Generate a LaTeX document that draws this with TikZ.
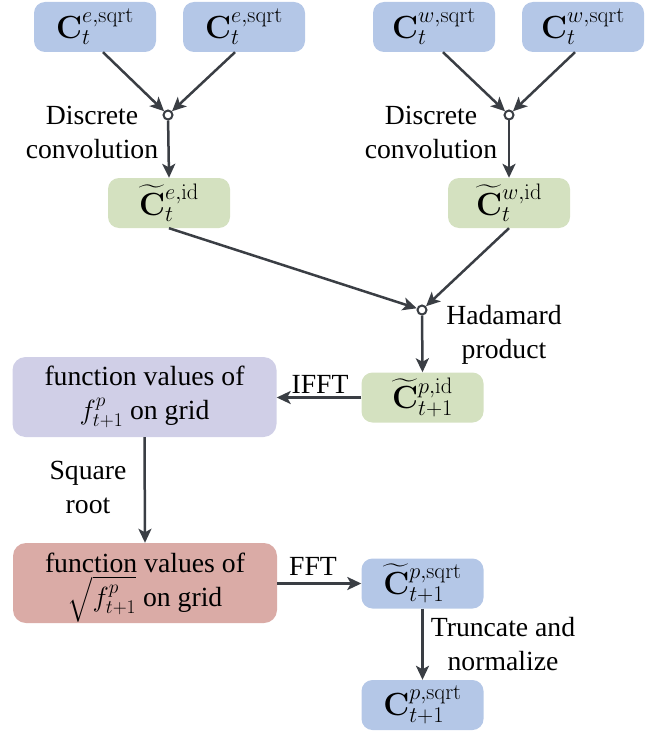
\RequirePackage{fix-cm}
\documentclass[tikz,border=0pt]{standalone}
\usepackage{amsmath}
\usepackage[no-math]{fontspec}
\setmainfont{Liberation Serif}
\newfontfamily\lserif{Liberation Serif}
\usetikzlibrary{arrows.meta,calc}
\definecolor{cblue}{HTML}{B4C7E7}
\definecolor{cgreen}{HTML}{D4E1C0}
\definecolor{cpurple}{HTML}{D0CFE7}
\definecolor{cred}{HTML}{DAABA6}
\definecolor{carrow}{HTML}{3A3E44}
\tikzset{
  smallbox/.style={rounded corners=11pt, minimum width=122pt, minimum height=50pt, inner sep=0pt, draw=none, font=\lserif\fontsize{32}{38}\selectfont},
  bigbox/.style={rounded corners=13pt, minimum width=264pt, minimum height=80pt, inner sep=0pt, align=center, draw=none},
  junction/.style={circle, draw=carrow, fill=white, line width=2pt, minimum size=9pt, inner sep=0pt},
  conn/.style={draw=carrow, line width=2.5pt, -{Stealth[length=14pt,width=13pt,inset=3.5pt]}},
  lbl/.style={align=center, inner sep=0pt}
}
\begin{document}
\begin{tikzpicture}[x=1pt,y=-1pt,font=\lserif\fontsize{27.7}{34}\selectfont]
\useasboundingbox (0,0) rectangle (650,733);
% top boxes
\node[smallbox, fill=cblue] (b1) at (95,27) {$\mathbf{C}_t^{e,\mathrm{sqrt}}$};
\node[smallbox, fill=cblue] (b2) at (244,27) {$\mathbf{C}_t^{e,\mathrm{sqrt}}$};
\node[smallbox, fill=cblue] (b3) at (434,27) {$\mathbf{C}_t^{w,\mathrm{sqrt}}$};
\node[smallbox, fill=cblue] (b4) at (583,27) {$\mathbf{C}_t^{w,\mathrm{sqrt}}$};
% junctions
\node[junction] (j1) at (168,115) {};
\node[junction] (j2) at (509,115) {};
% green boxes
\node[smallbox, fill=cgreen] (g1) at (169,203) {$\widetilde{\mathbf{C}}_t^{e,\mathrm{id}}$};
\node[smallbox, fill=cgreen] (g2) at (509,203) {$\widetilde{\mathbf{C}}_t^{w,\mathrm{id}}$};
\node[junction] (j3) at (422,310) {};
\node[smallbox, fill=cgreen] (g3) at (422.5,397.5) {$\widetilde{\mathbf{C}}_{t+1}^{p,\mathrm{id}}$};
% big boxes
\node[bigbox, fill=cpurple] (pu) at (144.5,397) {function values of\\$f_{t+1}^{p}$ on grid};
\node[bigbox, fill=cred] (re) at (145,583) {function values of\\$\smash{\sqrt{\rule[-14pt]{0pt}{40pt}f_{t+1}^{p}}}$ on grid};
% bottom right
\node[smallbox, fill=cblue] (b5) at (422.5,583.5) {$\widetilde{\mathbf{C}}_{t+1}^{p,\mathrm{sqrt}}$};
\node[smallbox, fill=cblue] (b6) at (422.5,705) {$\mathbf{C}_{t+1}^{p,\mathrm{sqrt}}$};
% labels
\node[lbl] (l1) at (92,132) {Discrete\\convolution};
\node[lbl] (l2) at (431,132) {Discrete\\convolution};
\node[lbl] (l3) at (504,335) {Hadamard\\product};
\node[lbl] (l4) at (320,384) {IFFT};
\node[lbl] (l5) at (88,487) {Square\\root};
\node[lbl] (l6) at (313,566) {FFT};
\node[lbl] (l7) at (503,644) {Truncate and\\normalize};
% connectors
\draw[conn] ($(b1.south)+(8,0)$) -- (j1);
\draw[conn] ($(b2.south)+(-9,0)$) -- (j1);
\draw[conn] ($(b3.south)+(9,0)$) -- (j2);
\draw[conn] ($(b4.south)+(-8,0)$) -- (j2);
\draw[conn] (j1) -- (g1.north);
\draw[conn] (j2) -- (g2.north);
\draw[conn] (g1.south) -- (j3);
\draw[conn] (g2.south) -- (j3);
\draw[conn] (j3) -- (g3.north);
\draw[conn] (g3.west) -- (pu.east |- g3.west);
\draw[conn] (pu.south) -- (re.north);
\draw[conn] (re.east |- b5.west) -- (b5.west);
\draw[conn] (b5.south) -- (b6.north);
\end{tikzpicture}
\end{document}
